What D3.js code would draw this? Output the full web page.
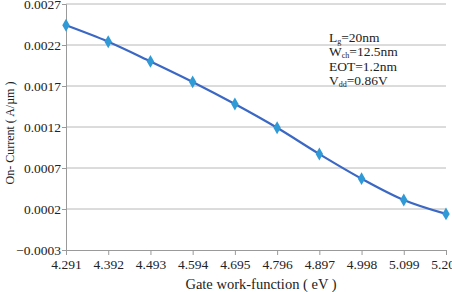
<!DOCTYPE html>
<html>
<head>
<meta charset="utf-8">
<script src="https://cdn.jsdelivr.net/npm/d3@7"></script>
<style>
  body { margin: 0; background: #fff; }
  svg { display: block; font-family: "Liberation Serif", "Times New Roman", serif; }
</style>
</head>
<body>
<div id="chart"></div>
<script>
// Gate work-function (eV) categories
const workFunction = ['4.291', '4.392', '4.493', '4.594', '4.695', '4.796', '4.897', '4.998', '5.099', '5.200'];
// On-current (A/um)
const onCurrent = [0.00244, 0.00224, 0.00200, 0.00175, 0.00148, 0.00119, 0.00087, 0.00057, 0.00031, 0.00014];
const yTicks = [-0.0003, 0.0002, 0.0007, 0.0012, 0.0017, 0.0022, 0.0027];
const notes = [
  ['L', 'g', '=20nm'],
  ['W', 'ch', '=12.5nm'],
  ['EOT=1.2nm', '', ''],
  ['V', 'dd', '=0.86V']
];

const width = 452, height = 292;
const margin = { top: 4, right: 6, bottom: 42, left: 66 };

const svg = d3.select('#chart').append('svg')
  .attr('width', width)
  .attr('height', height);

const x = d3.scalePoint()
  .domain(workFunction)
  .range([margin.left, width - margin.right]);

const y = d3.scaleLinear()
  .domain([-0.0003, 0.0027])
  .range([height - margin.bottom, margin.top]);

// Gridlines
svg.append('g')
  .selectAll('line')
  .data(yTicks.slice(1))
  .enter().append('line')
  .attr('x1', margin.left)
  .attr('x2', width - margin.right)
  .attr('y1', d => y(d))
  .attr('y2', d => y(d))
  .attr('stroke', '#b8b8b8')
  .attr('stroke-width', 1);

// Y axis
const yAxis = svg.append('g')
  .attr('transform', `translate(${margin.left},0)`)
  .call(d3.axisLeft(y).tickValues(yTicks).tickFormat(d3.format('.4f')).tickSize(4).tickPadding(1))
  .attr('font-family', null)
  .attr('font-size', 13.5);
yAxis.select('.domain').attr('stroke', '#9a9a9a');
yAxis.selectAll('.tick line').attr('stroke', '#9a9a9a');
yAxis.selectAll('text').attr('fill', '#222');

// X axis
const xAxis = svg.append('g')
  .attr('transform', `translate(0,${y(-0.0003)})`)
  .call(d3.axisBottom(x).tickSize(5).tickPadding(4))
  .attr('font-family', null)
  .attr('font-size', 13.5);
xAxis.select('.domain').attr('stroke', '#9a9a9a');
xAxis.selectAll('.tick line').attr('stroke', '#9a9a9a');
xAxis.selectAll('text').attr('fill', '#222');

// Axis titles
svg.append('text')
  .attr('x', 261)
  .attr('y', 289)
  .attr('text-anchor', 'middle')
  .attr('font-size', 14.5)
  .attr('fill', '#222')
  .text('Gate work-function ( eV )');

svg.append('text')
  .attr('transform', 'translate(14,133) rotate(-90)')
  .attr('text-anchor', 'middle')
  .attr('font-size', 12)
  .attr('fill', '#222')
  .text('On- Current ( A/\u00b5m )');

// Line
const points = workFunction.map((w, i) => ({ w, v: onCurrent[i] }));
svg.append('path')
  .datum(points)
  .attr('fill', 'none')
  .attr('stroke', '#3a68c4')
  .attr('stroke-width', 2.2)
  .attr('d', d3.line().x(d => x(d.w)).y(d => y(d.v)).curve(d3.curveMonotoneX));

// Diamond markers
svg.append('g')
  .selectAll('path')
  .data(points)
  .enter().append('path')
  .attr('transform', d => `translate(${x(d.w)},${y(d.v)})`)
  .attr('d', d3.symbol().type(d3.symbolDiamond).size(48))
  .attr('fill', '#2f9ad6');

// Device parameters note
const note = svg.append('g').attr('font-size', 13.5).attr('fill', '#222');
notes.forEach((n, i) => {
  const t = note.append('text')
    .attr('x', 329)
    .attr('y', 42 + i * 14.3);
  t.append('tspan').text(n[0]);
  if (n[1]) {
    t.append('tspan').attr('font-size', 8).attr('dy', 2).text(n[1]);
    t.append('tspan').attr('dy', -2).text(n[2]);
  }
});
</script>
</body>
</html>
